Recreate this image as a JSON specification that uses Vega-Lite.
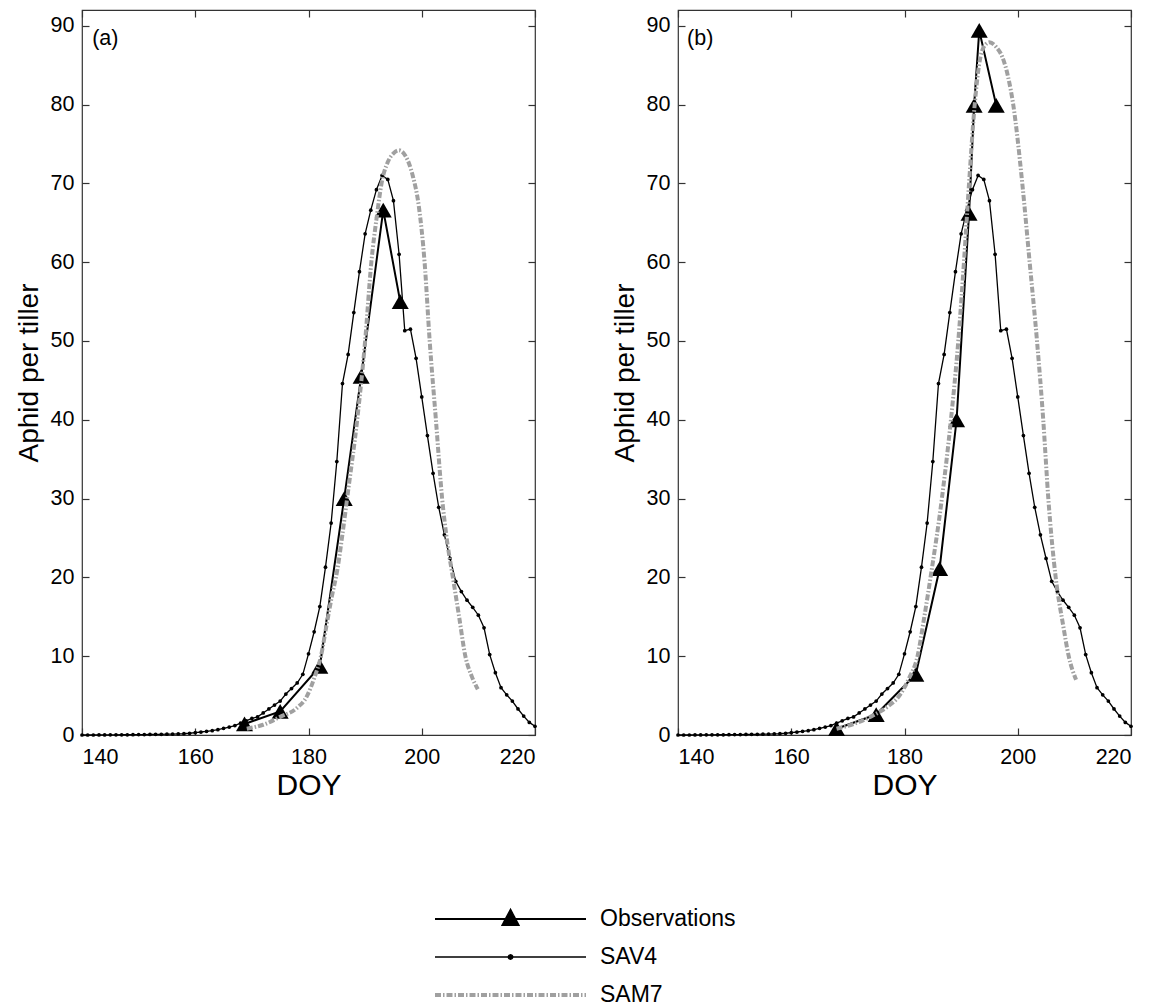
{
  "$schema": "https://vega.github.io/schema/vega-lite/v6.json",
  "autosize": "none",
  "padding": {"left": 82, "top": 10, "right": 1074, "bottom": 997},
  "background": "white",
  "config": {
    "font": "Arial",
    "view": {"stroke": "#333", "strokeWidth": 1.2},
    "axis": {
      "domain": false, "grid": false,
      "labelFontSize": 21.5, "labelColor": "black", "labelFont": "Arial",
      "titleFontSize": 28, "titleFontWeight": "normal", "titleColor": "black", "titleFont": "Arial",
      "tickColor": "#333", "tickSize": -7, "tickWidth": 1.2
    },
    "axisX": {"titleFontSize": 30}
  },
  "datasets": {
    "sav4": [
      {"doy":140,"aphids":0.0},{"doy":141,"aphids":0.0},{"doy":142,"aphids":0.0},{"doy":143,"aphids":0.01},{"doy":144,"aphids":0.01},
      {"doy":145,"aphids":0.02},{"doy":146,"aphids":0.02},{"doy":147,"aphids":0.03},{"doy":148,"aphids":0.03},{"doy":149,"aphids":0.04},
      {"doy":150,"aphids":0.05},{"doy":151,"aphids":0.06},{"doy":152,"aphids":0.07},{"doy":153,"aphids":0.08},{"doy":154,"aphids":0.09},
      {"doy":155,"aphids":0.1},{"doy":156,"aphids":0.12},{"doy":157,"aphids":0.14},{"doy":158,"aphids":0.16},{"doy":159,"aphids":0.22},
      {"doy":160,"aphids":0.3},{"doy":161,"aphids":0.38},{"doy":162,"aphids":0.47},{"doy":163,"aphids":0.55},{"doy":164,"aphids":0.67},
      {"doy":165,"aphids":0.85},{"doy":166,"aphids":1.0},{"doy":167,"aphids":1.2},{"doy":168,"aphids":1.5},{"doy":169,"aphids":1.8},
      {"doy":170,"aphids":2.1},{"doy":171,"aphids":2.3},{"doy":172,"aphids":2.8},{"doy":173,"aphids":3.3},{"doy":174,"aphids":3.8},
      {"doy":175,"aphids":4.3},{"doy":176,"aphids":5.2},{"doy":177,"aphids":5.9},{"doy":178,"aphids":6.6},{"doy":179,"aphids":7.7},
      {"doy":180,"aphids":10.3},{"doy":181,"aphids":13.1},{"doy":182,"aphids":16.3},{"doy":183,"aphids":21.3},{"doy":184,"aphids":26.9},
      {"doy":185,"aphids":34.7},{"doy":186,"aphids":44.6},{"doy":187,"aphids":48.3},{"doy":188,"aphids":53.6},{"doy":189,"aphids":58.8},
      {"doy":190,"aphids":63.6},{"doy":191,"aphids":66.6},{"doy":192,"aphids":69.2},{"doy":193,"aphids":71.0},{"doy":194,"aphids":70.5},
      {"doy":195,"aphids":67.8},{"doy":196,"aphids":61.0},{"doy":197,"aphids":51.3},{"doy":198,"aphids":51.5},{"doy":199,"aphids":47.8},
      {"doy":200,"aphids":42.9},{"doy":201,"aphids":38.0},{"doy":202,"aphids":33.2},{"doy":203,"aphids":28.9},{"doy":204,"aphids":25.4},
      {"doy":205,"aphids":22.4},{"doy":206,"aphids":19.5},{"doy":207,"aphids":18.2},{"doy":208,"aphids":17.1},{"doy":209,"aphids":16.2},
      {"doy":210,"aphids":15.2},{"doy":211,"aphids":13.6},{"doy":212,"aphids":10.2},{"doy":213,"aphids":7.9},{"doy":214,"aphids":6.0},
      {"doy":215,"aphids":5.1},{"doy":216,"aphids":4.3},{"doy":217,"aphids":3.3},{"doy":218,"aphids":2.4},{"doy":219,"aphids":1.6},
      {"doy":220,"aphids":1.1}
    ],
    "obs_a": [
      {"doy":168.7,"aphids":1.4,"series":"Observations"},{"doy":175.0,"aphids":3.0,"series":"Observations"},
      {"doy":182.0,"aphids":8.7,"series":"Observations"},{"doy":186.3,"aphids":30.0,"series":"Observations"},
      {"doy":189.3,"aphids":45.5,"series":"Observations"},{"doy":193.2,"aphids":66.6,"series":"Observations"},
      {"doy":196.2,"aphids":55.0,"series":"Observations"}
    ],
    "obs_b": [
      {"doy":168.0,"aphids":0.8},{"doy":175.0,"aphids":2.6},{"doy":182.0,"aphids":7.7},
      {"doy":186.2,"aphids":21.1},{"doy":189.2,"aphids":40.0},{"doy":191.4,"aphids":66.2},
      {"doy":192.3,"aphids":79.9},{"doy":193.2,"aphids":89.4},{"doy":196.2,"aphids":79.9}
    ],
    "sam_a": [
      {"doy":169.1,"aphids":0.8},{"doy":172.0,"aphids":1.3},{"doy":175.0,"aphids":2.3},{"doy":177.9,"aphids":3.4},
      {"doy":179.7,"aphids":4.9},{"doy":181.1,"aphids":7.4},{"doy":182.2,"aphids":10.0},{"doy":183.2,"aphids":14.0},
      {"doy":184.1,"aphids":17.5},{"doy":185.1,"aphids":21.0},{"doy":186.0,"aphids":25.5},{"doy":187.0,"aphids":31.0},
      {"doy":188.6,"aphids":40.0},{"doy":190.0,"aphids":50.0},{"doy":191.1,"aphids":60.0},{"doy":192.1,"aphids":66.0},
      {"doy":192.9,"aphids":70.0},{"doy":194.0,"aphids":72.7},{"doy":195.0,"aphids":73.8},{"doy":196.0,"aphids":74.2},
      {"doy":197.2,"aphids":73.4},{"doy":198.4,"aphids":71.0},{"doy":199.5,"aphids":67.0},{"doy":200.5,"aphids":60.0},
      {"doy":201.4,"aphids":50.0},{"doy":202.5,"aphids":40.0},{"doy":203.6,"aphids":30.0},{"doy":204.4,"aphids":25.0},
      {"doy":205.5,"aphids":20.0},{"doy":206.6,"aphids":15.0},{"doy":207.7,"aphids":10.0},{"doy":208.8,"aphids":7.5},
      {"doy":209.9,"aphids":5.8}
    ],
    "sam_b": [
      {"doy":168.0,"aphids":0.8},{"doy":171.0,"aphids":1.4},{"doy":174.5,"aphids":2.5},{"doy":177.0,"aphids":3.6},
      {"doy":179.1,"aphids":5.0},{"doy":180.8,"aphids":7.2},{"doy":182.3,"aphids":10.0},{"doy":183.5,"aphids":15.0},
      {"doy":184.6,"aphids":20.0},{"doy":186.6,"aphids":30.0},{"doy":188.2,"aphids":40.0},{"doy":189.5,"aphids":50.0},
      {"doy":190.5,"aphids":60.0},{"doy":191.4,"aphids":70.0},{"doy":192.4,"aphids":80.0},{"doy":193.4,"aphids":86.0},
      {"doy":194.3,"aphids":87.6},{"doy":195.0,"aphids":87.9},{"doy":196.2,"aphids":87.3},{"doy":197.3,"aphids":86.0},
      {"doy":198.3,"aphids":83.5},{"doy":199.2,"aphids":80.0},{"doy":200.8,"aphids":70.0},{"doy":202.1,"aphids":60.0},
      {"doy":203.4,"aphids":50.0},{"doy":204.5,"aphids":40.0},{"doy":205.4,"aphids":30.0},{"doy":206.7,"aphids":20.0},
      {"doy":208.0,"aphids":14.0},{"doy":209.0,"aphids":10.0},{"doy":210.3,"aphids":7.0}
    ]
  },
  "spacing": 143,
  "bounds": "flush",
  "hconcat": [
    {
      "width": 453,
      "height": 725,
      "resolve": {"axis": {"x": "independent", "y": "independent"}},
      "layer": [
        {
          "data": {"name": "obs_a"},
          "mark": {"type": "line", "strokeWidth": 2},
          "encoding": {
            "x": {"field": "doy", "type": "quantitative", "scale": {"domain": [140, 220], "nice": false, "zero": false},
                  "axis": {"values": [140, 160, 180, 200, 220], "title": "DOY", "labelPadding": 18, "titlePadding": 3}},
            "y": {"field": "aphids", "type": "quantitative", "scale": {"domain": [0, 92], "nice": false},
                  "axis": {"values": [0, 10, 20, 30, 40, 50, 60, 70, 80, 90], "title": "Aphid per tiller", "labelPadding": 15, "titlePadding": 7}},
            "color": {
              "field": "series", "type": "nominal",
              "scale": {"domain": ["Observations", "SAV4", "SAM7"], "range": ["black", "black", "#a0a0a0"]},
              "legend": {
                "title": null, "orient": "none", "legendX": 351, "legendY": 897,
                "labelFontSize": 23, "labelColor": "black", "labelFont": "Arial",
                "labelOffset": 78, "symbolOffset": 66, "symbolStrokeWidth": 1.5,
                "clipHeight": 24, "rowPadding": 14, "padding": 0,
                "encode": {
                  "symbols": {
                    "update": {
                      "shape": {"signal": "datum.value === 'Observations' ? 'M-1,0H1M0,-0.12L0.106,0.08L-0.106,0.08Z' : (datum.value === 'SAV4' ? 'M-1,0H1M0.03,0A0.03,0.03 0 1 1 -0.03,0A0.03,0.03 0 1 1 0.03,0' : 'M-1,0H1')"},
                      "size": {"value": 22801},
                      "strokeWidth": {"signal": "datum.value === 'Observations' ? 2 : (datum.value === 'SAV4' ? 1.3 : 4)"},
                      "strokeDash": {"signal": "datum.value === 'SAM7' ? [6, 2, 1.5, 2] : [1, 0]"},
                      "fill": {"signal": "datum.value === 'SAM7' ? 'transparent' : 'black'"},
                      "stroke": {"signal": "datum.value === 'SAM7' ? '#a0a0a0' : 'black'"},
                      "opacity": {"value": 1}
                    }
                  }
                }
              }
            }
          }
        },
        {
          "data": {"name": "obs_a"},
          "mark": {"type": "point", "shape": "triangle-up", "filled": true, "color": "black", "size": 290, "opacity": 1},
          "encoding": {
            "x": {"field": "doy", "type": "quantitative", "axis": {"orient": "top", "values": [140, 160, 180, 200, 220], "labels": false, "title": null}},
            "y": {"field": "aphids", "type": "quantitative", "axis": {"orient": "right", "values": [0, 10, 20, 30, 40, 50, 60, 70, 80, 90], "labels": false, "title": null}}
          }
        },
        {
          "data": {"name": "sav4"},
          "mark": {"type": "line", "strokeWidth": 1.3, "color": "black"},
          "encoding": {
            "x": {"field": "doy", "type": "quantitative", "axis": null},
            "y": {"field": "aphids", "type": "quantitative", "axis": null}
          }
        },
        {
          "data": {"name": "sav4"},
          "mark": {"type": "circle", "size": 14, "color": "black", "opacity": 1},
          "encoding": {
            "x": {"field": "doy", "type": "quantitative", "axis": null},
            "y": {"field": "aphids", "type": "quantitative", "axis": null}
          }
        },
        {
          "data": {"name": "sam_a"},
          "mark": {"type": "line", "strokeWidth": 4, "color": "#a0a0a0", "strokeDash": [6, 2, 1.5, 2], "interpolate": "monotone"},
          "encoding": {
            "x": {"field": "doy", "type": "quantitative", "axis": null},
            "y": {"field": "aphids", "type": "quantitative", "axis": null}
          }
        },
        {
          "data": {"values": [{"label": "(a)"}]},
          "mark": {"type": "text", "align": "left", "baseline": "middle", "fontSize": 21.5, "font": "Arial", "color": "black"},
          "encoding": {
            "x": {"datum": 141.8, "type": "quantitative", "axis": null},
            "y": {"datum": 88.3, "type": "quantitative", "axis": null},
            "text": {"field": "label"}
          }
        }
      ]
    },
    {
      "width": 453,
      "height": 725,
      "resolve": {"axis": {"x": "independent", "y": "independent"}},
      "layer": [
        {
          "data": {"name": "obs_b"},
          "mark": {"type": "line", "strokeWidth": 2, "color": "black"},
          "encoding": {
            "x": {"field": "doy", "type": "quantitative", "scale": {"domain": [140, 220], "nice": false, "zero": false},
                  "axis": {"values": [140, 160, 180, 200, 220], "title": "DOY", "labelPadding": 18, "titlePadding": 3}},
            "y": {"field": "aphids", "type": "quantitative", "scale": {"domain": [0, 92], "nice": false},
                  "axis": {"values": [0, 10, 20, 30, 40, 50, 60, 70, 80, 90], "title": "Aphid per tiller", "labelPadding": 15, "titlePadding": 7}}
          }
        },
        {
          "data": {"name": "obs_b"},
          "mark": {"type": "point", "shape": "triangle-up", "filled": true, "color": "black", "size": 290, "opacity": 1},
          "encoding": {
            "x": {"field": "doy", "type": "quantitative", "axis": {"orient": "top", "values": [140, 160, 180, 200, 220], "labels": false, "title": null}},
            "y": {"field": "aphids", "type": "quantitative", "axis": {"orient": "right", "values": [0, 10, 20, 30, 40, 50, 60, 70, 80, 90], "labels": false, "title": null}}
          }
        },
        {
          "data": {"name": "sav4"},
          "mark": {"type": "line", "strokeWidth": 1.3, "color": "black"},
          "encoding": {
            "x": {"field": "doy", "type": "quantitative", "axis": null},
            "y": {"field": "aphids", "type": "quantitative", "axis": null}
          }
        },
        {
          "data": {"name": "sav4"},
          "mark": {"type": "circle", "size": 14, "color": "black", "opacity": 1},
          "encoding": {
            "x": {"field": "doy", "type": "quantitative", "axis": null},
            "y": {"field": "aphids", "type": "quantitative", "axis": null}
          }
        },
        {
          "data": {"name": "sam_b"},
          "mark": {"type": "line", "strokeWidth": 4, "color": "#a0a0a0", "strokeDash": [6, 2, 1.5, 2], "interpolate": "monotone"},
          "encoding": {
            "x": {"field": "doy", "type": "quantitative", "axis": null},
            "y": {"field": "aphids", "type": "quantitative", "axis": null}
          }
        },
        {
          "data": {"values": [{"label": "(b)"}]},
          "mark": {"type": "text", "align": "left", "baseline": "middle", "fontSize": 21.5, "font": "Arial", "color": "black"},
          "encoding": {
            "x": {"datum": 141.6, "type": "quantitative", "axis": null},
            "y": {"datum": 88.3, "type": "quantitative", "axis": null},
            "text": {"field": "label"}
          }
        }
      ]
    }
  ]
}
